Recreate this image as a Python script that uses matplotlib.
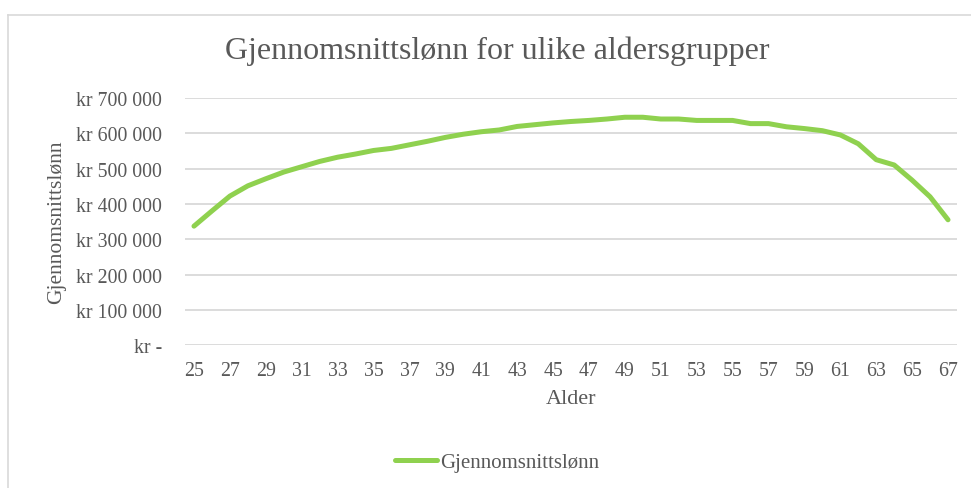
import matplotlib
matplotlib.use("Agg")
import matplotlib.pyplot as plt
from matplotlib.lines import Line2D
from matplotlib.ticker import FuncFormatter

ages = list(range(25, 68))
salary = [337000, 380000, 422000, 451000, 471000, 490000, 505000, 520000, 532000, 541000,
          551000, 557000, 567000, 577000, 588000, 597000, 604000, 609000, 619000, 624000,
          629000, 633000, 636000, 640000, 645000, 645000, 640000, 640000, 636000, 636000,
          636000, 627000, 627000, 618000, 613000, 607000, 595000, 570000, 525000, 510000,
          467000, 420000, 355000]
xtick_ages = list(range(25, 68, 2))
yticks = [0, 100000, 200000, 300000, 400000, 500000, 600000, 700000]

title = "Gjennomsnittslønn for ulike aldersgrupper"
series_name = "Gjennomsnittslønn"
xlabel = "Alder"
ylabel = "Gjennomsnittslønn"

plt.rcParams['font.family'] = ['Liberation Serif', 'DejaVu Serif']
TXT = '#595959'
GRID = '#d9d9d9'
GREEN = '#8fd14f'

W, H = 971, 489
fig = plt.figure(figsize=(W / 100, H / 100), dpi=100)

# chart border (light gray frame)
fig.add_artist(Line2D([7.5 / W, 1.0], [1 - 15.5 / H, 1 - 15.5 / H], color=GRID, lw=1.2,
                      transform=fig.transFigure))
fig.add_artist(Line2D([7.5 / W, 7.5 / W], [0, 1 - 15.5 / H], color=GRID, lw=1.2,
                      transform=fig.transFigure))

left, right = 185 / W, 957 / W
bottom, top = 1 - 346.3 / H, 1 - 98.8 / H
ax = fig.add_axes([left, bottom, right - left, top - bottom])

ax.plot(ages, salary, color=GREEN, lw=3.6, solid_capstyle='round', solid_joinstyle='round',
        label=series_name, zorder=3)

ax.set_xlim(24.5, 67.5)
ax.set_ylim(0, 700000)
ax.set_yticks(yticks)
ax.set_xticks(xtick_ages)

def yfmt(v, pos):
    if v == 0:
        return "kr -"
    return "kr " + f"{int(v):,}".replace(",", " ")

ax.yaxis.set_major_formatter(FuncFormatter(yfmt))
ax.grid(axis='y', color=GRID, lw=1.3, zorder=0)
ax.grid(axis='x', visible=False)
for s in ax.spines.values():
    s.set_visible(False)
ax.tick_params(axis='both', length=0, labelsize=14.3, labelcolor=TXT)
ax.tick_params(axis='y', pad=16.5)
ax.tick_params(axis='x', pad=11)

ax.set_xlabel(xlabel, fontsize=16, color=TXT, labelpad=7)
ax.set_ylabel(ylabel, fontsize=15.5, color=TXT, labelpad=7.5)

fig.text(497 / W, 1 - 51 / H, title, ha='center', va='center', fontsize=23, color=TXT)

leg = fig.legend(handles=[Line2D([0], [0], color=GREEN, lw=3.6, solid_capstyle='round')],
                 labels=[series_name], loc='center', bbox_to_anchor=(497 / W, 1 - 463 / H),
                 frameon=False, fontsize=15, handlelength=2.0, handletextpad=0.15)
for t in leg.get_texts():
    t.set_color(TXT)

fig.savefig("out.png", dpi=100, facecolor='white')
